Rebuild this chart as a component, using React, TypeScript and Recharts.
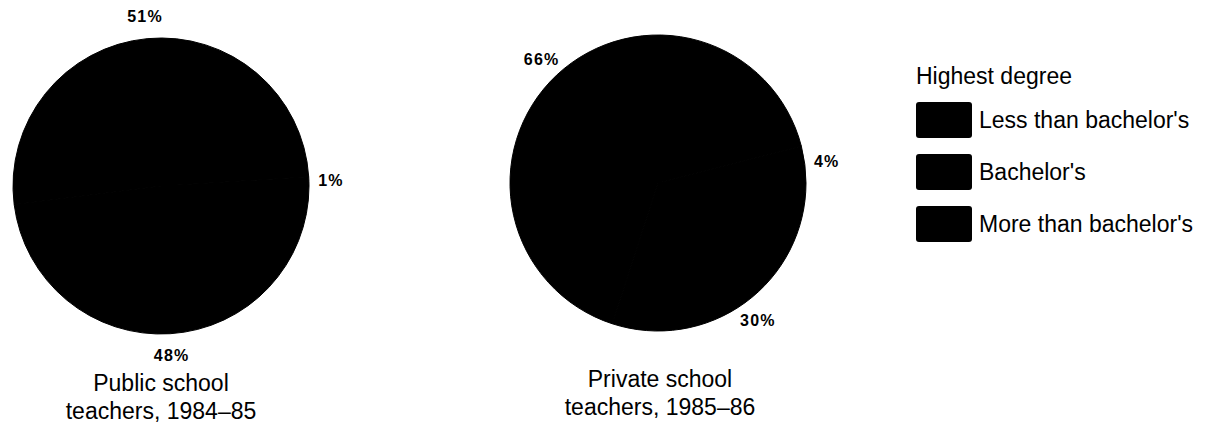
import { PieChart, Pie, Cell, Legend } from "recharts";

const categories = ["Less than bachelor's", "Bachelor's", "More than bachelor's"];
const publicValues = [1, 51, 48];
const privateValues = [4, 66, 30];
const pieTitles = [
  ["Public school", "teachers, 1984\u201385"],
  ["Private school", "teachers, 1985\u201386"],
];

const sliceColors = ["#000000", "#000000", "#000000"];
const font = "'Liberation Sans', Arial, Helvetica, sans-serif";

const publicData = categories.map((name, i) => ({ name, value: publicValues[i] }));
const privateData = categories.map((name, i) => ({ name, value: privateValues[i] }));

const RAD = Math.PI / 180;

function renderLabel(props: any) {
  const { cx, cy, midAngle, outerRadius, value } = props;
  const r = outerRadius + 22;
  const x = cx + r * Math.cos(-midAngle * RAD);
  const y = cy + r * Math.sin(-midAngle * RAD);
  return (
    <text
      x={x}
      y={y}
      textAnchor="middle"
      dominantBaseline="central"
      fontFamily={font}
      fontSize={16}
      fontWeight="bold"
      letterSpacing={1.2}
      fill="#000"
    >
      {`${value}%`}
    </text>
  );
}

function LegendBox() {
  return (
    <div style={{ fontFamily: font, color: "#000" }}>
      <div style={{ fontSize: 23, lineHeight: "28px", marginBottom: 12 }}>Highest degree</div>
      {categories.map((c, i) => (
        <div key={c} style={{ display: "flex", alignItems: "center", height: 36, marginBottom: 16 }}>
          <div
            style={{
              width: 56,
              height: 36,
              background: sliceColors[i],
              borderRadius: 3,
              marginRight: 7,
              flexShrink: 0,
            }}
          />
          <span style={{ fontSize: 23, whiteSpace: "nowrap" }}>{c}</span>
        </div>
      ))}
    </div>
  );
}

export default function App() {
  const titleStyle = {
    position: "absolute" as const,
    width: 300,
    textAlign: "center" as const,
    fontFamily: font,
    fontSize: 23,
    lineHeight: "28px",
    color: "#000",
  };

  return (
    <div style={{ position: "absolute", left: 0, top: 0, width: 1217, height: 424, background: "#fff", overflow: "hidden" }}>
      <PieChart width={1217} height={424}>
        <Pie
          data={publicData}
          dataKey="value"
          nameKey="name"
          cx={156}
          cy={181}
          outerRadius={148}
          startAngle={0}
          endAngle={360}
          stroke="#000"
          strokeWidth={1}
          label={renderLabel}
          labelLine={false}
          isAnimationActive={false}
        >
          {publicData.map((d, i) => (
            <Cell key={d.name} fill={sliceColors[i]} />
          ))}
        </Pie>
        <Pie
          data={privateData}
          dataKey="value"
          nameKey="name"
          cx={653}
          cy={178}
          outerRadius={148}
          startAngle={0}
          endAngle={360}
          stroke="#000"
          strokeWidth={1}
          label={renderLabel}
          labelLine={false}
          isAnimationActive={false}
        >
          {privateData.map((d, i) => (
            <Cell key={d.name} fill={sliceColors[i]} />
          ))}
        </Pie>
        <Legend
          content={() => <LegendBox />}
          layout="vertical"
          wrapperStyle={{ position: "absolute", left: 916, top: 62, width: 300 }}
        />
      </PieChart>
      <div style={{ ...titleStyle, left: 11, top: 369 }}>
        {pieTitles[0][0]}
        <br />
        {pieTitles[0][1]}
      </div>
      <div style={{ ...titleStyle, left: 510, top: 365 }}>
        {pieTitles[1][0]}
        <br />
        {pieTitles[1][1]}
      </div>
    </div>
  );
}
